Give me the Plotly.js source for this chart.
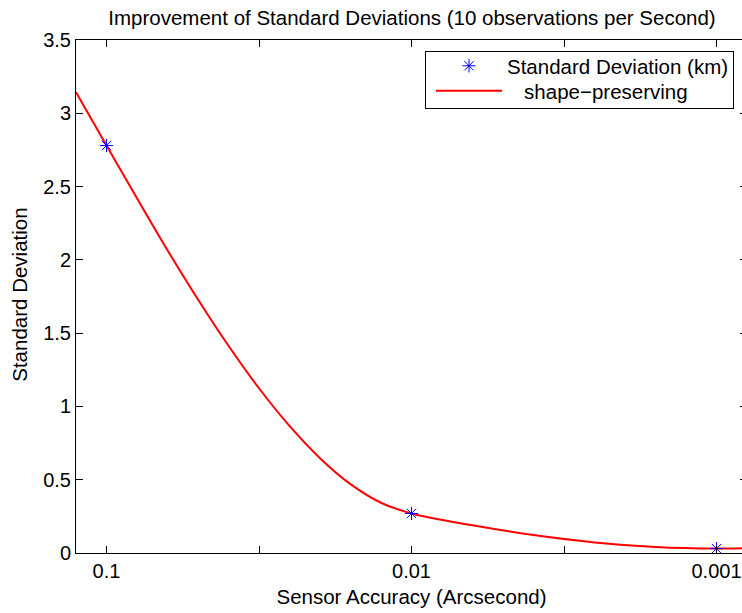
<!DOCTYPE html>
<html>
<head>
<meta charset="utf-8">
<script src="https://cdn.plot.ly/plotly-3.0.1.min.js"></script>
<style>html,body{margin:0;padding:0;background:#fff;overflow:hidden;}#chart{width:747px;height:613px;}</style>
</head>
<body>
<div id="chart"></div>
<script>
// Measured observations (x index: 1 -> 0.1, 2 -> 0.01, 3 -> 0.001 arcsecond)
const obsX = [1, 2, 3];
const obsY = [2.78, 0.27, 0.03];

// Shape-preserving fit curve
const fitX = [0.9, 1.0, 1.1, 1.2, 1.3, 1.4, 1.5, 1.6, 1.7, 1.8, 1.9, 2.0, 2.2, 2.4, 2.6, 2.8, 3.0, 3.1];
const fitY = [3.144, 2.78, 2.42, 2.066, 1.73, 1.414, 1.124, 0.867, 0.647, 0.47, 0.343, 0.27, 0.189, 0.1225, 0.0724, 0.041, 0.03, 0.033];

const tickVals = [1, 1.5, 2, 2.5, 3];
const tickText = ['0.1', '', '0.01', '', '0.001'];
const yTickVals = [0, 0.5, 1, 1.5, 2, 2.5, 3, 3.5];
const yTickText = ['0', '0.5', '1', '1.5', '2', '2.5', '3', '3.5'];

const font = 'Liberation Sans, Arial, Helvetica, sans-serif';
const W = 747, H = 613, ML = 76, MT = 40, MB = 59.5;
const PW = W - ML, PH = H - MT - MB;
const px = v => (v - ML) / PW;
const py = v => (H - MB - v) / PH;

const traces = [
  {
    x: fitX, y: fitY, type: 'scatter', mode: 'lines',
    name: '\u00a0\u00a0\u00a0shape\u2212preserving', legend: 'legend2',
    line: {color: '#ff0000', width: 2, shape: 'spline', smoothing: 1}
  },
  {
    x: obsX, y: obsY, type: 'scatter', mode: 'markers',
    name: 'Standard Deviation (km)', legend: 'legend',
    marker: {symbol: 'asterisk-open', size: 11, color: '#0000ff', line: {color: '#0000ff', width: 1}}
  }
];

const legendBase = {
  xanchor: 'left', yanchor: 'middle', borderwidth: 0, bgcolor: 'rgba(0,0,0,0)',
  font: {size: 20.5}, itemwidth: 66, tracegroupgap: 0
};

const layout = {
  width: W, height: H,
  margin: {l: ML, r: 0, t: MT, b: MB},
  paper_bgcolor: '#fff', plot_bgcolor: '#fff',
  font: {family: font, size: 20, color: '#000'},
  title: {text: 'Improvement of Standard Deviations (10 observations per Second)',
          font: {family: font, size: 20.5, color: '#000'}, x: 412 / W, xanchor: 'center', y: 1 - 18 / H, yanchor: 'middle'},
  xaxis: {
    range: [0.9, 3.1], tickmode: 'array', tickvals: tickVals, ticktext: tickText,
    ticks: 'inside', ticklen: 7, tickcolor: '#000', mirror: 'ticks',
    showline: true, linecolor: '#000', linewidth: 1, showgrid: false, zeroline: false,
    tickfont: {size: 20},
    title: {text: 'Sensor Accuracy (Arcsecond)', font: {size: 20.5}, standoff: 8}
  },
  yaxis: {
    range: [0, 3.5], tickmode: 'array', tickvals: yTickVals, ticktext: yTickText,
    ticks: 'inside', ticklen: 7, tickcolor: '#000', mirror: 'ticks',
    showline: true, linecolor: '#000', linewidth: 1, showgrid: false, zeroline: false,
    tickfont: {size: 20}
  },
  annotations: [
    {xref: 'paper', yref: 'paper', x: px(20), y: py(295), xanchor: 'center', yanchor: 'middle',
     text: 'Standard Deviation', textangle: -90, showarrow: false, font: {size: 20.5}},
    {xref: 'paper', yref: 'paper', x: px(425), y: py(51), xanchor: 'left', yanchor: 'top',
     text: ' ', showarrow: false, width: 307, height: 56, borderpad: 0,
     bordercolor: '#000', borderwidth: 1, bgcolor: 'rgba(0,0,0,0)'}
  ],
  showlegend: true,
  legend: Object.assign({}, legendBase, {x: px(431), y: py(66)}),
  legend2: Object.assign({}, legendBase, {x: px(431), y: py(91)})
};

Plotly.newPlot('chart', traces, layout, {displayModeBar: false, staticPlot: true});
</script>
</body>
</html>
